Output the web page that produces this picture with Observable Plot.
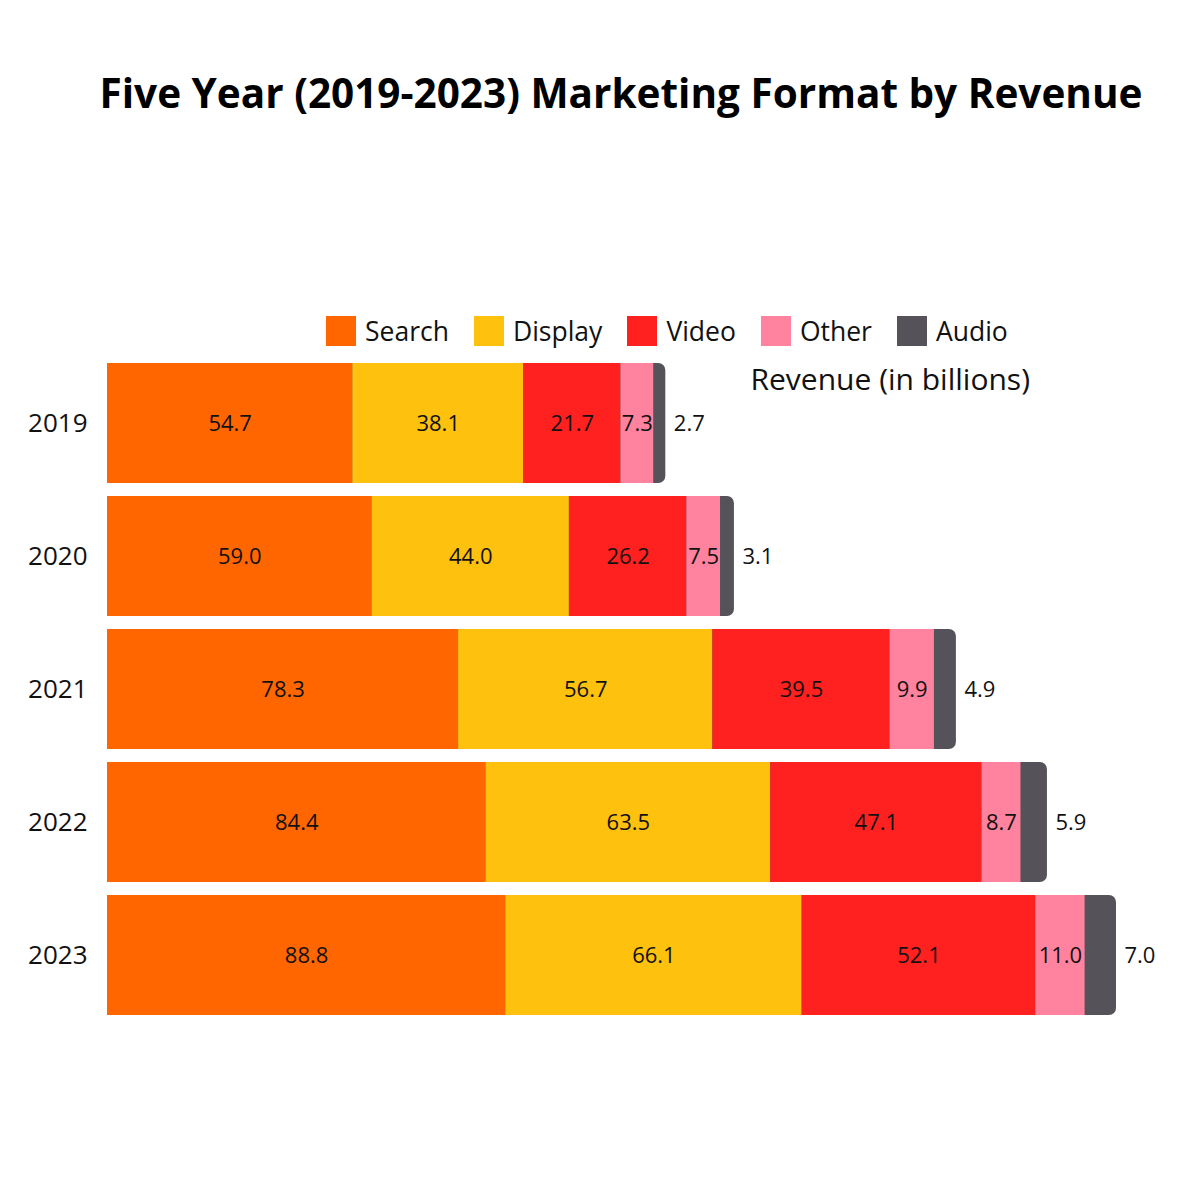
<!DOCTYPE html>
<html>
<head>
<meta charset="utf-8">
<script src="https://cdn.jsdelivr.net/npm/d3@7"></script>
<script src="https://cdn.jsdelivr.net/npm/@observablehq/plot@0.6"></script>
<style>
  body { margin: 0; background: #fff; font-family: "Open Sans", sans-serif; color: #111; }
  #wrap { position: relative; width: 1200px; height: 1200px; overflow: hidden; }
  #title { position: absolute; top: 66px; left: 42px; width: 1158px; text-align: center;
           font-size: 40.5px; line-height: 54px; font-weight: 700; color: #000; }
  #legend { position: absolute; top: 313px; left: 326px; }
  #chart { position: absolute; top: 355px; left: 0; }
  .lg-swatch { margin-right: 25px !important; }
  .lg-swatch > svg { margin-right: 9px !important; }
</style>
</head>
<body>
<div id="wrap">
  <div id="title">Five Year (2019-2023) Marketing Format by Revenue</div>
  <div id="legend"></div>
  <div id="chart"></div>
</div>
<script>
const years = ["2019", "2020", "2021", "2022", "2023"];
const formats = ["Search", "Display", "Video", "Other", "Audio"];
const colors = ["#FF6600", "#FDC10E", "#FF2020", "#FF829E", "#55525A"];
const search = [54.7, 59.0, 78.3, 84.4, 88.8];
const display = [38.1, 44.0, 56.7, 63.5, 66.1];
const video = [21.7, 26.2, 39.5, 47.1, 52.1];
const other = [7.3, 7.5, 9.9, 8.7, 11.0];
const audio = [2.7, 3.1, 4.9, 5.9, 7.0];
const axisNote = "Revenue (in billions)";

const series = [search, display, video, other, audio];
const rows = years.flatMap((y, i) => formats.map((f, j) => ({year: y, format: f, value: series[j][i]})));
const fmt = v => v.toFixed(1);
const audioColor = colors[formats.indexOf("Audio")];

const legend = Plot.legend({
  color: {type: "ordinal", domain: formats, range: colors},
  legend: "swatches",
  swatchSize: 30,
  className: "lg",
  style: {fontSize: "26.5px", fontFamily: "Open Sans", color: "#111"}
});
document.getElementById("legend").appendChild(legend);

const chart = Plot.plot({
  width: 1200,
  height: 845,
  marginTop: 6,
  marginBottom: 184,
  marginLeft: 107,
  marginRight: 84,
  style: {fontFamily: "Open Sans", color: "#111", background: "#fff"},
  x: {axis: null},
  y: {domain: years, paddingInner: 0.1, paddingOuter: 0, label: null},
  color: {domain: formats, range: colors},
  marks: [
    Plot.barX(rows, Plot.groupY({x: "sum"}, {x: "value", y: "year", fill: audioColor, rx: 7})),
    Plot.barX(rows.filter(d => d.format !== "Audio"), {x: "value", y: "year", fill: "format"}),
    Plot.text(rows, Plot.stackX({x: "value", y: "year",
      text: d => d.format === "Audio" ? null : fmt(d.value), fontSize: 22, fill: "#111"})),
    Plot.text(rows, Plot.stackX2({x: "value", y: "year",
      text: d => d.format === "Audio" ? fmt(d.value) : null, fontSize: 22, fill: "#111",
      textAnchor: "start", dx: 8})),
    Plot.text([axisNote], {text: d => d, frameAnchor: "top-left", textAnchor: "start",
      lineAnchor: "middle", dx: 643, dy: 19, fontSize: 30, fill: "#111"}),
    Plot.axisY({tickSize: 0, tickPadding: 20, fontSize: 26, label: null})
  ]
});
document.getElementById("chart").appendChild(chart);
</script>
</body>
</html>
